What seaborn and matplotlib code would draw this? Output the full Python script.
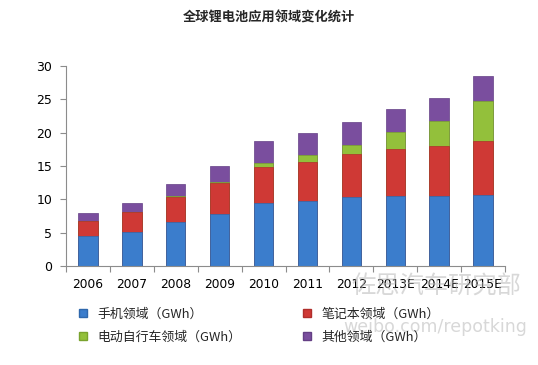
import matplotlib
matplotlib.use("Agg")
import matplotlib.pyplot as plt
from matplotlib.lines import Line2D
import numpy as np
import pandas as pd
import seaborn as sns

years = ["2006", "2007", "2008", "2009", "2010", "2011", "2012", "2013E", "2014E", "2015E"]
phone = [4.5, 5.1, 6.55, 7.8, 9.4, 9.8, 10.4, 10.55, 10.55, 10.7]
laptop = [2.25, 2.95, 3.85, 4.6, 5.5, 5.8, 6.35, 6.95, 7.5, 8.0]
ebike = [0.0, 0.0, 0.1, 0.25, 0.5, 1.05, 1.45, 2.55, 3.75, 6.1]
other = [1.25, 1.45, 1.75, 2.3, 3.35, 3.25, 3.4, 3.45, 3.35, 3.7]
labels = ["手机领域（GWh）", "笔记本领域（GWh）", "电动自行车领域（GWh）", "其他领域（GWh）"]
title = "全球锂电池应用领域变化统计"
watermark = ["佐思汽车研究部", "weibo.com/repotking"]

colors = ["#3b7dcc", "#cf3935", "#93c03b", "#7a4e9e"]
edges = ["#2f68ad", "#b02e2b", "#7aa32e", "#643f85"]

sns.set_theme(style="white")
plt.rcParams["font.family"] = ["Noto Sans CJK SC", "DejaVu Sans"]

fig = plt.figure(figsize=(5.38, 3.65), dpi=100)
ax = fig.add_axes([66 / 538, 1 - 266 / 365, 439 / 538, 200 / 365])

df = pd.DataFrame({"year": years, "phone": phone, "laptop": laptop, "ebike": ebike, "other": other})
df["c1"] = df["phone"]
df["c2"] = df["c1"] + df["laptop"]
df["c3"] = df["c2"] + df["ebike"]
df["c4"] = df["c3"] + df["other"]

for col, c, e in zip(["c4", "c3", "c2", "c1"], colors[::-1], edges[::-1]):
    sns.barplot(data=df, x="year", y=col, color=c, ax=ax, width=0.44,
                edgecolor=e, linewidth=0.5, saturation=1)

ax.set_xlim(-0.5, 9.5)
ax.set_ylim(0, 30)
ax.set_yticks(range(0, 31, 5))
ax.set_xlabel("")
ax.set_ylabel("")
for s in ["top", "right"]:
    ax.spines[s].set_visible(False)
for s in ["left", "bottom"]:
    ax.spines[s].set_color("#8c8c8c")
    ax.spines[s].set_linewidth(0.8)
ax.set_xticks(np.arange(-0.5, 10, 1), minor=True)
ax.tick_params(axis="x", which="major", length=0, pad=9, labelsize=8.8, colors="black")
ax.tick_params(axis="x", which="minor", length=4, color="#8c8c8c", width=0.8, bottom=True)
ax.tick_params(axis="y", length=4, color="#8c8c8c", width=0.8, left=True, labelsize=9, colors="black", pad=6)
for t in ax.get_xticklabels() + ax.get_yticklabels():
    t.set_family(["DejaVu Sans"])

fig.text(0.5, 1 - 18 / 365, title, ha="center", va="center", fontsize=9.5, fontweight="bold")

handles = [Line2D([], [], marker="s", linestyle="none", markersize=6,
                  markerfacecolor=colors[i], markeredgecolor=edges[i]) for i in range(4)]
order = [0, 2, 1, 3]
fig.legend([handles[i] for i in order], [labels[i] for i in order], ncol=2,
           loc="upper left", bbox_to_anchor=(65 / 538, 1 - 296 / 365), frameon=False,
           fontsize=9.3, handlelength=1.0, handletextpad=0.6, columnspacing=4.6,
           labelspacing=0.75)

# watermark
fig.text(436 / 538, 1 - 287 / 365, watermark[0], ha="center", va="center",
         fontsize=17.5, color="#b8b8b8", alpha=0.55, zorder=0)
fig.text(435 / 538, 1 - 327 / 365, watermark[1], ha="center", va="center",
         fontsize=12.5, color="#b8b8b8", alpha=0.55, family=["DejaVu Sans"], zorder=0)

fig.savefig("out.png", dpi=100)
